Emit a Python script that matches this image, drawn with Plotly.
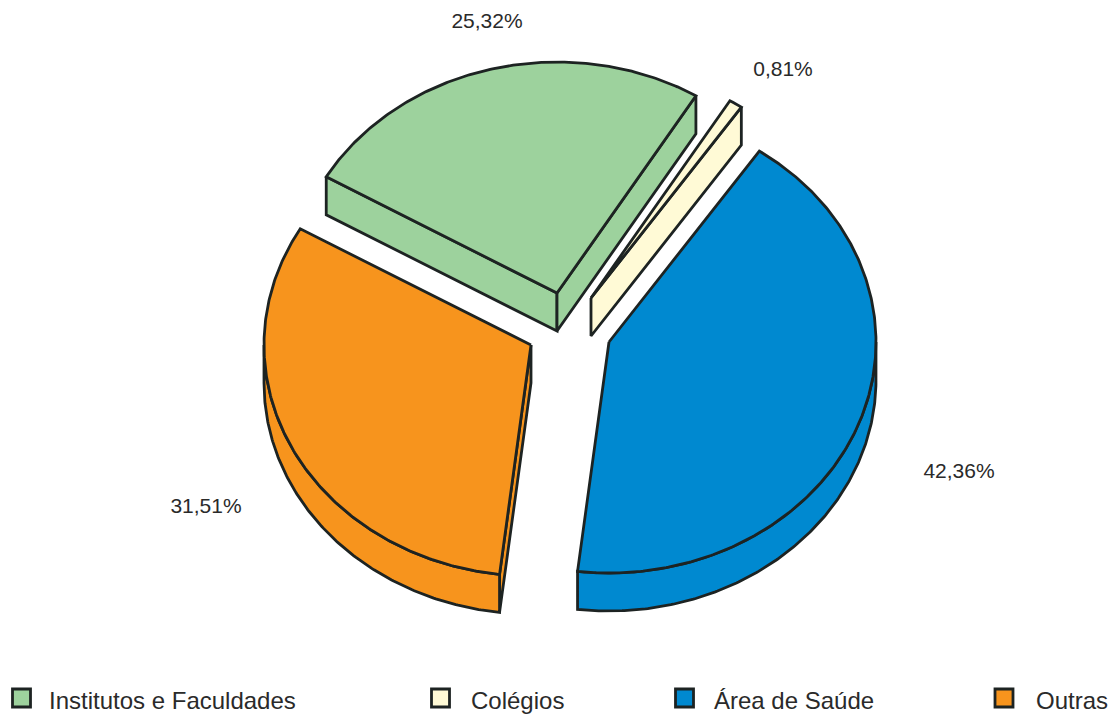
import numpy as np
import plotly.graph_objects as go

# Data
categories = ["Institutos e Faculdades", "Colégios", "Área de Saúde", "Outras"]
shares = [25.32, 0.81, 42.36, 31.51]
share_labels = ["25,32%", "0,81%", "42,36%", "31,51%"]
colors = ["#9dd29d", "#fffad6", "#0089d0", "#f7941d"]

# Style / geometry of the exploded 3-D look
START_DEG = -59.8
RX, RY, DEPTH = 267.0, 231.0, 38.0
apexes = [(557, 293), (591, 298), (609, 342), (531, 345)]
label_pos = [(487, 23), (783, 71), (959, 473), (206, 508)]
legend_sq_x = [21.5, 440.5, 684.5, 1004]
legend_tx_x = [49, 471, 714, 1036]
LEGEND_Y = 698
INK = "#1d2322"
LW = 2.8

edges = START_DEG + np.concatenate([[0], np.cumsum(shares)]) * 360.0 / sum(shares)


def arc(apex, a0, a1, dy=0.0):
    t = np.radians(np.linspace(a0, a1, max(int(abs(a1 - a0) * 2), 2)))
    return apex[0] + RX * np.sin(t), apex[1] - RY * np.cos(t) + dy


fig = go.Figure()


def poly(x, y, color):
    x = np.append(x, x[0])
    y = np.append(y, y[0])
    fig.add_trace(go.Scatter(x=x, y=y, mode="lines", fill="toself", fillcolor=color,
                             line=dict(color=INK, width=LW, shape="linear"),
                             hoverinfo="skip", showlegend=False))


for i in range(4):
    ap = apexes[i]
    a0, a1 = edges[i], edges[i + 1]
    col = colors[i]
    ax, ay = arc(ap, a0, a1)

    # side walls
    if i in (0, 1):
        if i == 0:
            x0, y0 = arc(ap, a0, a0)
            poly(np.array([x0[0], ap[0], ap[0], x0[0]]),
                 np.array([y0[0], ap[1], ap[1] + DEPTH, y0[0] + DEPTH]), col)
        x1, y1 = arc(ap, a1, a1)
        poly(np.array([ap[0], x1[0], x1[0], ap[0]]),
             np.array([ap[1], y1[0], y1[0] + DEPTH, ap[1] + DEPTH]), col)
    if i == 3:
        x0, y0 = arc(ap, a0, a0)
        poly(np.array([ap[0], x0[0], x0[0], ap[0]]),
             np.array([ap[1], y0[0], y0[0] + DEPTH, ap[1] + DEPTH]), col)
    # outer curved wall: only the part below the ellipse's horizontal axis
    lo, hi = max(a0, 90.0), min(a1, 270.0)
    if lo < hi:
        wx, wy = arc(ap, lo, hi)
        bx, by = arc(ap, hi, lo, DEPTH)
        poly(np.concatenate([wx, bx]), np.concatenate([wy, by]), col)

    # top face
    poly(np.concatenate([[ap[0]], ax]), np.concatenate([[ap[1]], ay]), col)

# percentage labels
fig.add_trace(go.Scatter(x=[p[0] for p in label_pos], y=[p[1] for p in label_pos],
                         mode="text", text=share_labels, textposition="middle center",
                         textfont=dict(family="Liberation Sans", size=21, color="#2a2a2a"),
                         hoverinfo="skip", showlegend=False))

# legend
fig.add_trace(go.Scatter(x=legend_sq_x, y=[LEGEND_Y] * 4, mode="markers",
                         marker=dict(symbol="square", size=18, color=colors,
                                     line=dict(color=INK, width=2.8)),
                         hoverinfo="skip", showlegend=False))
fig.add_trace(go.Scatter(x=legend_tx_x, y=[LEGEND_Y + 5] * 4, mode="text", text=categories,
                         textposition="middle right",
                         textfont=dict(family="Liberation Sans", size=24, color="#2a2a2a"),
                         hoverinfo="skip", showlegend=False))

fig.update_layout(
    width=1113, height=715, margin=dict(l=0, r=0, t=0, b=0),
    paper_bgcolor="white", plot_bgcolor="white",
    xaxis=dict(range=[0, 1113], visible=False, fixedrange=True),
    yaxis=dict(range=[715, 0], visible=False, fixedrange=True),
)
fig.write_html("out.html", config={"displayModeBar": False},
               post_script="document.body.style.margin='0';document.body.style.overflow='hidden';")
